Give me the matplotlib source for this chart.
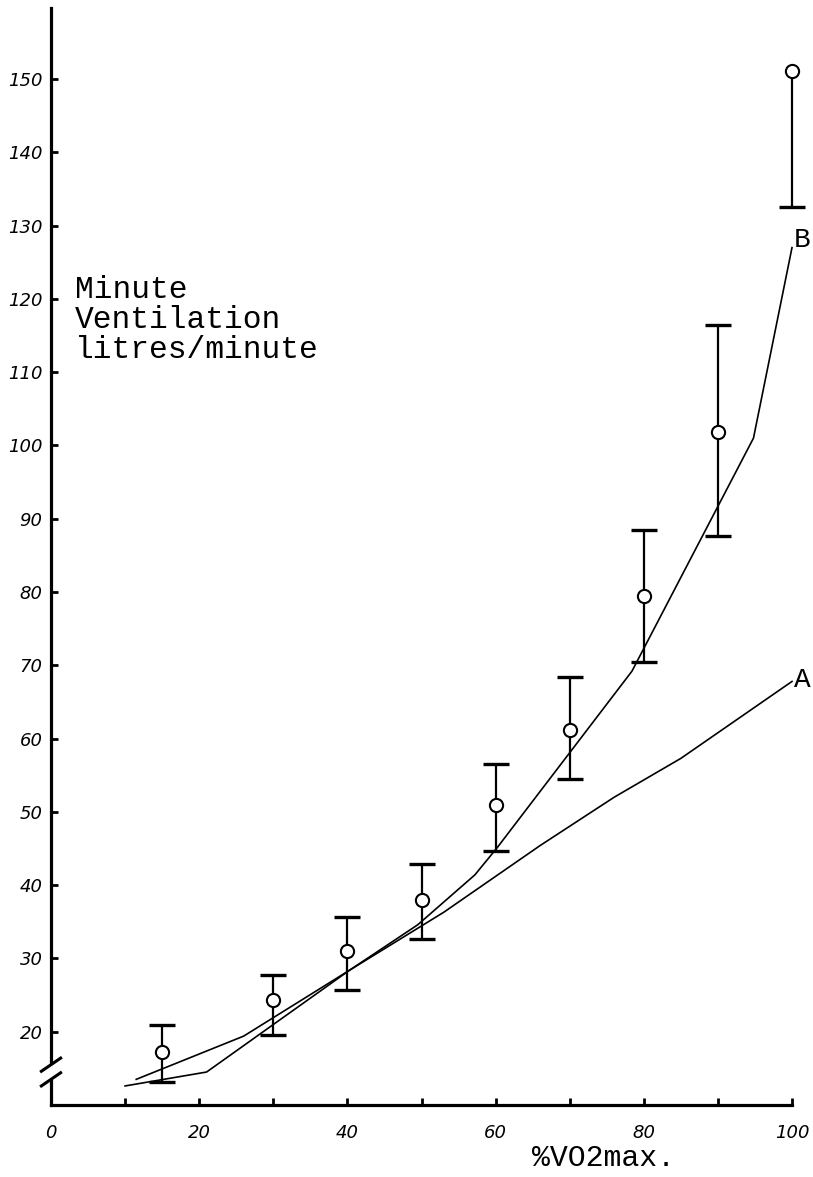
import numpy as np
import matplotlib.pyplot as plt

# exercise intensity (% of VO2max) and minute ventilation (l/min)
pct_vo2 = [15, 30, 40, 50, 60, 70, 80, 90, 100]
ve_mean = [17.3, 24.3, 31.0, 38.0, 51.0, 61.2, 79.5, 101.8, 151.1]
ve_low = [13.1, 19.5, 25.7, 32.7, 44.7, 54.5, 70.4, 87.6, 132.5]
ve_high = [20.9, 27.8, 35.6, 42.9, 56.5, 68.4, 88.4, 116.5, np.nan]

# fitted curves
line_a_x = [11.5, 26, 40.3, 53, 66, 76, 85, 100]
line_a_y = [13.5, 19.4, 28.4, 36.3, 45.4, 52.0, 57.3, 67.8]
line_b_x = [10, 21, 40.3, 49.5, 57.2, 60.2, 78.4, 94.8, 100]
line_b_y = [12.6, 14.5, 28.4, 34.6, 41.4, 45.1, 69.2, 101.0, 127.0]

x_ticks = [0, 20, 40, 60, 80, 100]
y_ticks = list(range(20, 160, 10))

hand = dict(family='DejaVu Sans', style='italic', fontsize=13)
mono = 'Liberation Mono'

fig = plt.figure(figsize=(8.13, 11.77), dpi=100)
ax = fig.add_axes([51 / 813, 1 - 1105 / 1177, 741 / 813, 1097 / 1177])

ax.plot(line_a_x, line_a_y, color='black', lw=1.2, clip_on=False)
ax.plot(line_b_x, line_b_y, color='black', lw=1.2, clip_on=False)

# error bars drawn by hand: stem, caps, open circle
lo = np.array(ve_low)
hi = np.array(ve_high)
top = np.where(np.isnan(hi), ve_mean, hi)
ax.vlines(pct_vo2, lo, top, color='black', lw=1.6, clip_on=False)
ax.plot(pct_vo2, lo, ls='none', marker='_', ms=19, mew=2.4, color='black',
        clip_on=False)
ax.plot(pct_vo2, hi, ls='none', marker='_', ms=19, mew=2.4, color='black',
        clip_on=False)
ax.plot(pct_vo2, ve_mean, ls='none', marker='o', ms=9.5, mfc='white',
        mec='black', mew=1.5, clip_on=False, zorder=4)

ax.set_xlim(0, 100)
ax.set_ylim(10, 159.7)
for s in ['top', 'right']:
    ax.spines[s].set_visible(False)
for s in ['left', 'bottom']:
    ax.spines[s].set_linewidth(2.3)

ax.set_xticks(x_ticks)
ax.set_xticks([10, 30, 50, 70, 90], minor=True)
ax.set_xticklabels([str(t) for t in x_ticks], **hand)
ax.set_yticks(y_ticks)
ax.set_yticklabels([str(t) for t in y_ticks], **hand)
ax.tick_params(axis='both', which='both', direction='in', length=5, width=2)
ax.tick_params(axis='x', pad=14)
ax.tick_params(axis='y', pad=6)

# axis break on the y axis
ax.plot([0, 0], [14.0, 15.0], color='white', lw=5, zorder=4, clip_on=False)
for yb in (15.5, 13.5):
    ax.plot([-1.3, 1.3], [yb - 0.9, yb + 0.9], color='black', lw=2.2,
            zorder=5, clip_on=False)

ax.text(3.2, 123.2, 'Minute\nVentilation\nlitres/minute', family=mono,
        fontsize=22.5, va='top', ha='left', linespacing=0.98)
ax.text(100.3, 128.0, 'B', family=mono, fontsize=20, va='center',
        ha='left', clip_on=False)
ax.text(100.3, 68.0, 'A', family=mono, fontsize=20, va='center',
        ha='left', clip_on=False)
fig.text(532 / 813, 1 - 1158 / 1177, '%VO2max.', family=mono, fontsize=21.5,
         va='center', ha='left')

fig.savefig('out.png', dpi=100)
